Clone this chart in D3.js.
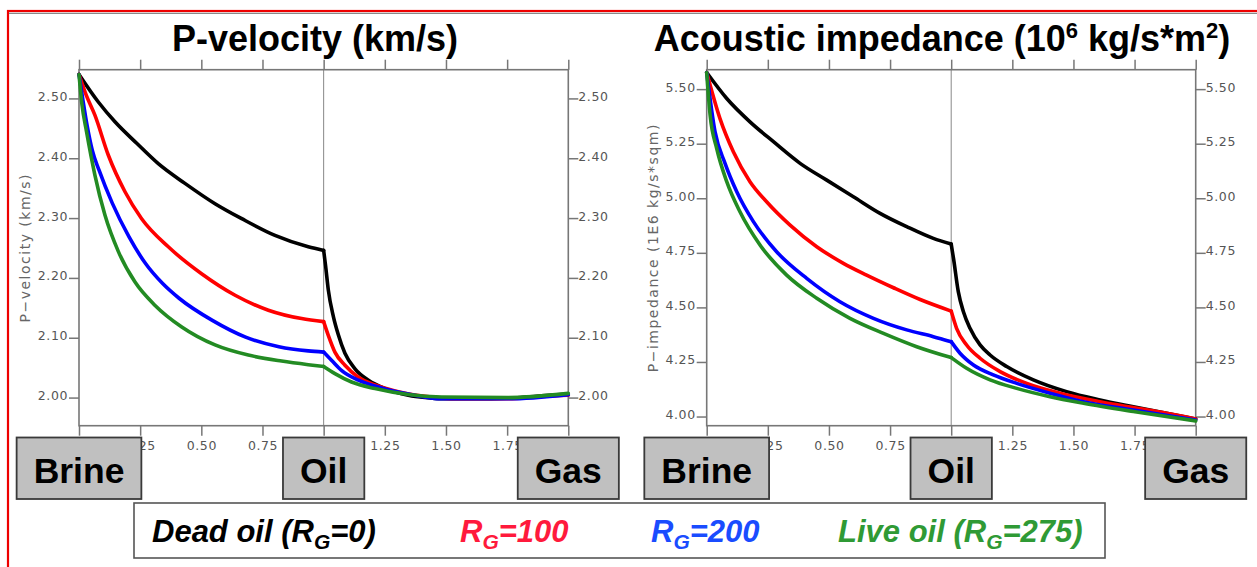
<!DOCTYPE html>
<html>
<head>
<meta charset="utf-8">
<script src="https://cdn.jsdelivr.net/npm/d3@7"></script>
<style>
  html, body { margin: 0; padding: 0; background: #fff; overflow: hidden; }
  svg { display: block; }
</style>
</head>
<body>
<svg id="chart" width="1257" height="567"></svg>
<script>
// ---------------- DATA ----------------
const xTicks = [0, 0.25, 0.5, 0.75, 1.0, 1.25, 1.5, 1.75, 2.0];
const velTicks = [2.0, 2.1, 2.2, 2.3, 2.4, 2.5];
const impTicks = [4.0, 4.25, 4.5, 4.75, 5.0, 5.25, 5.5];
const fluidLabels = ["Brine", "Oil", "Gas"];
const fluidPositions = [0, 1, 2];

const seriesNames = ["Dead oil", "RG=100", "RG=200", "Live oil"];
const seriesColors = ["#000000", "#ff0000", "#0000ff", "#238b23"];

// P-velocity (km/s) vs. fluid mix coordinate
const velDead = [[0,2.54],[0.079,2.494],[0.147,2.461],[0.236,2.425],[0.324,2.391],[0.433,2.358],[0.556,2.324],[0.665,2.299],[0.801,2.271],[0.937,2.252],[1.0,2.246],[1.008,2.22],[1.019,2.18],[1.04,2.135],[1.06,2.105],[1.087,2.074],[1.128,2.048],[1.183,2.029],[1.251,2.015],[1.346,2.004],[1.414,2.0],[1.482,1.998],[1.619,1.998],[1.755,1.999],[1.891,2.003],[2.0,2.006]];
const vel100 = [[0,2.54],[0.03,2.505],[0.065,2.472],[0.12,2.405],[0.188,2.344],[0.256,2.299],[0.365,2.252],[0.501,2.207],[0.638,2.171],[0.774,2.146],[0.91,2.132],[1.0,2.127],[1.019,2.104],[1.046,2.076],[1.087,2.054],[1.142,2.034],[1.21,2.021],[1.292,2.011],[1.414,2.002],[1.55,1.998],[1.755,1.998],[1.891,2.002],[2.0,2.004]];
const vel200 = [[0,2.54],[0.015,2.5],[0.033,2.455],[0.0545,2.413],[0.082,2.38],[0.136,2.325],[0.204,2.269],[0.272,2.224],[0.341,2.191],[0.409,2.166],[0.545,2.129],[0.681,2.101],[0.817,2.085],[0.937,2.078],[1.0,2.076],[1.033,2.062],[1.074,2.045],[1.142,2.029],[1.237,2.016],[1.346,2.006],[1.482,1.998],[1.755,1.998],[2.0,2.005]];
const vel275 = [[0,2.54],[0.012,2.49],[0.031,2.444],[0.065,2.372],[0.106,2.305],[0.161,2.244],[0.229,2.193],[0.311,2.154],[0.42,2.118],[0.556,2.088],[0.692,2.071],[0.828,2.061],[0.937,2.055],[1.0,2.052],[1.046,2.04],[1.114,2.026],[1.21,2.015],[1.346,2.005],[1.482,2.001],[1.755,2.0],[2.0,2.007]];

// Acoustic impedance (1E6 kg/s*m2)
const impDead = [[0,5.576],[0.082,5.457],[0.177,5.35],[0.273,5.259],[0.382,5.16],[0.491,5.083],[0.6,5.007],[0.709,4.931],[0.818,4.87],[0.927,4.816],[1.0,4.79],[1.01,4.72],[1.029,4.572],[1.05,4.48],[1.077,4.404],[1.118,4.328],[1.159,4.282],[1.227,4.229],[1.336,4.168],[1.472,4.114],[1.609,4.076],[1.745,4.045],[1.881,4.015],[2.0,3.989]];
const imp100 = [[0,5.576],[0.054,5.366],[0.109,5.213],[0.177,5.076],[0.245,4.984],[0.341,4.877],[0.45,4.778],[0.559,4.702],[0.654,4.648],[0.764,4.59],[0.873,4.536],[1.0,4.483],[1.022,4.404],[1.063,4.328],[1.118,4.267],[1.2,4.206],[1.309,4.152],[1.445,4.107],[1.609,4.068],[1.745,4.041],[1.881,4.015],[2.0,3.989]];
const imp200 = [[0,5.576],[0.034,5.305],[0.075,5.16],[0.123,5.03],[0.191,4.893],[0.286,4.755],[0.409,4.633],[0.545,4.526],[0.682,4.45],[0.818,4.397],[0.927,4.366],[1.0,4.343],[1.036,4.29],[1.091,4.236],[1.172,4.191],[1.268,4.152],[1.404,4.107],[1.541,4.068],[1.745,4.03],[2.0,3.984]];
const imp275 = [[0,5.576],[0.014,5.381],[0.041,5.228],[0.082,5.076],[0.136,4.938],[0.218,4.786],[0.327,4.648],[0.45,4.542],[0.586,4.45],[0.723,4.381],[0.859,4.32],[1.0,4.27],[1.063,4.221],[1.159,4.168],[1.268,4.129],[1.404,4.091],[1.541,4.061],[1.745,4.023],[2.0,3.98]];

// ---------------- DRAW ----------------
const svg = d3.select("#chart");
const AX = "#777";

// outer frame
svg.append("rect").attr("x", 8).attr("y", 11).attr("width", 1300).attr("height", 700)
  .attr("fill", "none").attr("stroke", "#ee0000").attr("stroke-width", 2.2);
svg.append("line").attr("x1", 9).attr("x2", 1257).attr("y1", 13.3).attr("y2", 13.3)
  .attr("stroke", "#888").attr("stroke-width", 1.2);

function panel(cfg) {
  const x = d3.scaleLinear().domain([0, 2]).range([cfg.x0, cfg.x1]);
  const y = d3.scaleLinear().domain(cfg.yDomain).range([425.7, 69.7]);
  const g = svg.append("g");

  // oil divider
  g.append("line").attr("x1", x(1)).attr("x2", x(1)).attr("y1", y.range()[1]).attr("y2", y.range()[0])
    .attr("stroke", "#888").attr("stroke-width", 1);

  // frame
  g.append("rect").attr("x", x(0)).attr("y", y.range()[1])
    .attr("width", x(2) - x(0)).attr("height", y.range()[0] - y.range()[1])
    .attr("fill", "none").attr("stroke", AX).attr("stroke-width", 1.6);

  const fmt = d3.format(".2f");
  const styleAxis = sel => {
    sel.select(".domain").remove();
    sel.selectAll("line").attr("stroke", AX).attr("stroke-width", 1.5);
    sel.selectAll("text").attr("fill", "#555").attr("font-family", "DejaVu Sans, sans-serif")
      .attr("font-size", 12.5).attr("letter-spacing", 0.6);
  };

  g.append("g").attr("transform", `translate(0,${y.range()[1]})`)
    .call(d3.axisTop(x).tickValues(xTicks).tickSize(10).tickSizeOuter(0).tickFormat(""))
    .call(styleAxis);
  g.append("g").attr("transform", `translate(0,${y.range()[0]})`)
    .call(d3.axisBottom(x).tickValues(xTicks).tickSize(10).tickSizeOuter(0).tickPadding(5).tickFormat(fmt))
    .call(styleAxis);
  g.append("g").attr("transform", `translate(${x(0)},0)`)
    .call(d3.axisLeft(y).tickValues(cfg.yTicks).tickSize(10).tickSizeOuter(0).tickPadding(1).tickFormat(fmt))
    .call(styleAxis)
    .call(a => a.selectAll("text").attr("dy", 2));
  g.append("g").attr("transform", `translate(${x(2)},0)`)
    .call(d3.axisRight(y).tickValues(cfg.yTicks).tickSize(10).tickSizeOuter(0).tickPadding(0).tickFormat(fmt))
    .call(styleAxis)
    .call(a => a.selectAll("text").attr("dy", 2));

  // y label
  g.append("text")
    .attr("transform", `translate(${cfg.ylabX},${(y.range()[0] + y.range()[1]) / 2}) rotate(-90)`)
    .attr("text-anchor", "middle")
    .attr("font-family", "DejaVu Sans, sans-serif").attr("font-size", 14)
    .attr("letter-spacing", 1.5)
    .attr("fill", "#666").text(cfg.ylabel);

  // curves (split at x=1 to keep the sharp kink)
  const line = d3.line().x(d => x(d[0])).y(d => y(d[1])).curve(d3.curveMonotoneX);
  cfg.series.forEach((s, i) => {
    const parts = [s.filter(d => d[0] <= 1), s.filter(d => d[0] >= 1)];
    parts.forEach(p => {
      g.append("path").attr("d", line(p)).attr("fill", "none")
        .attr("stroke", seriesColors[i]).attr("stroke-width", 3.6)
        .attr("stroke-linejoin", "round").attr("stroke-linecap", "round");
    });
  });

  // title
  const t = g.append("text").attr("x", cfg.titleX).attr("y", 51).attr("text-anchor", "middle")
    .attr("font-family", "Liberation Sans, Arial, sans-serif").attr("font-weight", "bold")
    .attr("font-size", 36).attr("fill", "#000");
  cfg.title(t);

  // fluid boxes
  fluidLabels.forEach((lab, i) => {
    const cx = x(fluidPositions[i]);
    const tx = g.append("text").attr("x", cx).attr("y", 483).attr("text-anchor", "middle")
      .attr("font-family", "Liberation Sans, Arial, sans-serif").attr("font-weight", "bold")
      .attr("font-size", 35.5).attr("fill", "#000").text(lab);
    const w = tx.node().getComputedTextLength() + 34;
    g.insert("rect", () => tx.node())
      .attr("x", cx - w / 2).attr("y", 437.5).attr("width", w).attr("height", 61.5)
      .attr("fill", "#c0c0c0").attr("stroke", "#3a3a3a").attr("stroke-width", 1.8);
  });
}

panel({
  x0: 79, x1: 568.3, yDomain: [1.953, 2.548], yTicks: velTicks,
  ylabel: "P\u2212velocity (km/s)", ylabX: 30,
  series: [velDead, vel100, vel200, vel275],
  titleX: 315,
  title: t => t.text("P-velocity (km/s)")
});

panel({
  x0: 706.7, x1: 1195.7, yDomain: [3.958, 5.589], yTicks: impTicks,
  ylabel: "P\u2212impedance (1E6 kg/s*sqm)", ylabX: 658,
  series: [impDead, imp100, imp200, imp275],
  titleX: 942,
  title: t => {
    t.append("tspan").text("Acoustic impedance (10");
    t.append("tspan").attr("dy", -13).attr("font-size", 22).text("6");
    t.append("tspan").attr("dy", 13).text(" kg/s*m");
    t.append("tspan").attr("dy", -13).attr("font-size", 22).text("2");
    t.append("tspan").attr("dy", 13).text(")");
  }
});

// legend
svg.append("rect").attr("x", 134).attr("y", 503).attr("width", 971).attr("height", 55)
  .attr("fill", "#fff").attr("stroke", "#555").attr("stroke-width", 1.6);

const legendColors = ["#000000", "#ff1a3c", "#1a4cff", "#2f9a35"];
const legendX = [152, 460, 651, 838];
const legendParts = [
  ["Dead oil (R", "G", "=0)"],
  ["R", "G", "=100"],
  ["R", "G", "=200"],
  ["Live oil (R", "G", "=275)"]
];
legendParts.forEach((p, i) => {
  const t = svg.append("text").attr("x", legendX[i]).attr("y", 542)
    .attr("font-family", "Liberation Sans, Arial, sans-serif").attr("font-weight", "bold")
    .attr("font-style", "italic").attr("font-size", 31).attr("fill", legendColors[i]);
  t.append("tspan").text(p[0]);
  t.append("tspan").attr("dy", 7).attr("font-size", 21).text(p[1]);
  t.append("tspan").attr("dy", -7).text(p[2]);
});
</script>
</body>
</html>
